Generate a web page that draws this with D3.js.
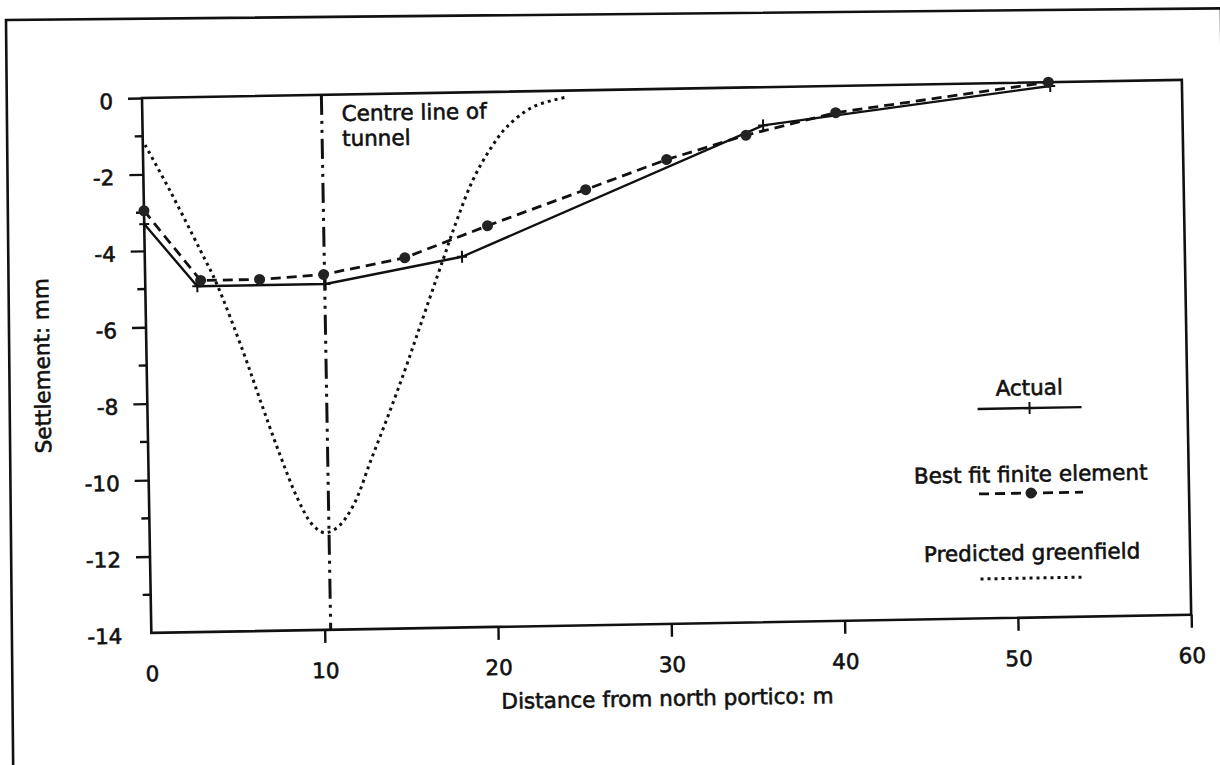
<!DOCTYPE html>
<html>
<head>
<meta charset="utf-8">
<script src="https://cdn.jsdelivr.net/npm/d3@7"></script>
<style>
  body { margin: 0; background: #fff; }
  svg text { font-family: "DejaVu Sans", "Liberation Sans", sans-serif; fill: #111; }
</style>
</head>
<body>
<svg id="chart" width="1220" height="765"></svg>
<script>
// ---------------- data ----------------
const xTickValues = [0, 10, 20, 30, 40, 50, 60];
const xTickLabels = ["0", "10", "20", "30", "40", "50", "60"];
const yTickValues = [0, -2, -4, -6, -8, -10, -12, -14];
const yTickLabels = ["0", "-2", "-4", "-6", "-8", "-10", "-12", "-14"];
const yMinorTicks = [-1, -3, -5, -7, -9, -11, -13];

const actualX = [0, 3.0, 10.4, 18.3, 35.8, 52.4];
const actualY = [-3.3, -4.95, -4.95, -4.3, -1.0, -0.1];

const bestFitX = [0, 3.2, 6.6, 10.3, 15.0, 19.8, 25.5, 30.2, 34.8, 40.0, 52.3];
const bestFitY = [-2.95, -4.8, -4.8, -4.7, -4.3, -3.5, -2.6, -1.85, -1.25, -0.7, 0.0];

const greenfieldX = [0.13, 1.5, 3.2, 4.1, 5.6, 6.6, 7.6, 8.6, 9.4, 10.1, 10.9, 11.8, 12.85, 13.9, 14.9, 15.8, 17.2, 18.05, 19.0, 20.0, 21.0, 22.55, 24.5];
const greenfieldY = [-1.23, -2.42, -4.0, -4.87, -6.71, -8.08, -9.4, -10.58, -11.24, -11.46, -11.3, -10.74, -9.57, -8.4, -7.23, -6.11, -4.37, -3.33, -2.3, -1.52, -0.93, -0.41, -0.17];

const tunnelCentreX = 10.35;

const xTitle = "Distance from north portico: m";
const yTitle = "Settlement: mm";
const annotationLines = ["Centre line of", "tunnel"];
const legendLabels = ["Actual", "Best fit finite element", "Predicted greenfield"];

// ---------------- drawing ----------------
const INK = "#111";
const FONT = 21.5;
const TEXT_STROKE = 0.6;
const svg = d3.select("#chart");
svg.append("rect").attr("width", 1220).attr("height", 765).attr("fill", "#fff");

// outer frame (scanned page, slightly tilted)
svg.append("rect")
  .attr("transform", "translate(6,20) rotate(-0.55)")
  .attr("width", 1215).attr("height", 760)
  .attr("fill", "none").attr("stroke", INK).attr("stroke-width", 2.6);

const W = 1040, H = 535;
const x = d3.scaleLinear().domain([0, 60]).range([0, W]);
const y = d3.scaleLinear().domain([-14, 0]).range([H, 0]);

const g = svg.append("g").attr("transform", "translate(142,98) rotate(-1)");

// plot box
g.append("rect").attr("width", W).attr("height", H)
  .attr("fill", "none").attr("stroke", INK).attr("stroke-width", 2.6);

function styleText(sel) {
  return sel.attr("font-size", FONT).attr("stroke", INK).attr("stroke-width", TEXT_STROKE);
}

// y axis
const yAxisG = g.append("g")
  .call(d3.axisLeft(y).tickValues(yTickValues).tickSize(14).tickPadding(15)
    .tickFormat((d, i) => yTickLabels[i]));
yAxisG.select(".domain").remove();
yAxisG.selectAll(".tick line").attr("stroke", INK).attr("stroke-width", 2.4);
yAxisG.selectAll(".tick").filter(d => d === -14).select("line").remove();
styleText(yAxisG.selectAll(".tick text")).attr("dy", "0.46em");
yAxisG.attr("font-family", null).attr("font-size", null);

g.append("g").selectAll("line").data(yMinorTicks).join("line")
  .attr("x1", -8).attr("x2", 0).attr("y1", d => y(d)).attr("y2", d => y(d))
  .attr("stroke", INK).attr("stroke-width", 2.4);

// x axis
const xAxisG = g.append("g").attr("transform", `translate(0,${H})`)
  .call(d3.axisBottom(x).tickValues(xTickValues).tickSize(13).tickPadding(20)
    .tickFormat((d, i) => xTickLabels[i]));
xAxisG.select(".domain").remove();
xAxisG.selectAll(".tick line").attr("stroke", INK).attr("stroke-width", 2.4);
xAxisG.selectAll(".tick").filter(d => d === 0).select("line").remove();
styleText(xAxisG.selectAll(".tick text"));
xAxisG.attr("font-family", null).attr("font-size", null);

// axis titles
styleText(g.append("text")).attr("x", W / 2 - 5).attr("y", 617).attr("text-anchor", "middle").text(xTitle);
styleText(g.append("text")).attr("transform", "translate(-97,266) rotate(-90)")
  .attr("text-anchor", "middle").text(yTitle);

// tunnel centre line
g.append("line")
  .attr("x1", x(tunnelCentreX)).attr("x2", x(tunnelCentreX))
  .attr("y1", y(0)).attr("y2", y(-14))
  .attr("stroke", INK).attr("stroke-width", 3)
  .attr("stroke-dasharray", "20,6,3,6,3,6");
annotationLines.forEach((t, i) => {
  styleText(g.append("text")).attr("x", x(11.5)).attr("y", 26.5 + i * 25).text(t);
});

// series
const lineGen = d3.line().x(d => x(d[0])).y(d => y(d[1]));
const actual = actualX.map((v, i) => [v, actualY[i]]);
const bestFit = bestFitX.map((v, i) => [v, bestFitY[i]]);
const greenfield = greenfieldX.map((v, i) => [v, greenfieldY[i]]);

g.append("path").datum(greenfield)
  .attr("d", d3.line().x(d => x(d[0])).y(d => y(d[1])).curve(d3.curveCatmullRom.alpha(0.5)))
  .attr("fill", "none").attr("stroke", INK).attr("stroke-width", 3)
  .attr("stroke-dasharray", "3,4");

g.append("path").datum(bestFit).attr("d", lineGen)
  .attr("fill", "none").attr("stroke", INK).attr("stroke-width", 2.8)
  .attr("stroke-dasharray", "10,6");

g.append("path").datum(actual).attr("d", lineGen)
  .attr("fill", "none").attr("stroke", INK).attr("stroke-width", 2.4);

const cross = "M-5,0H5M0,-6V6";
g.append("g").selectAll("path").data(actual).join("path")
  .attr("transform", d => `translate(${x(d[0])},${y(d[1])})`)
  .attr("d", cross).attr("stroke", INK).attr("stroke-width", 2);

g.append("g").selectAll("circle").data(bestFit).join("circle")
  .attr("cx", d => x(d[0])).attr("cy", d => y(d[1])).attr("r", 5.5)
  .attr("fill", "#222");

// legend
const legendCX = 882;
const legend = [
  { label: legendLabels[0], textY: 312.5, lineY: 325.5, dash: null, width: 2.4, marker: "cross" },
  { label: legendLabels[1], textY: 399, lineY: 410.5, dash: "10,6", width: 2.8, marker: "dot" },
  { label: legendLabels[2], textY: 477.5, lineY: 495.5, dash: "3,4", width: 3, marker: null }
];
legend.forEach(item => {
  styleText(g.append("text")).attr("x", legendCX).attr("y", item.textY)
    .attr("text-anchor", "middle").text(item.label);
  g.append("line").attr("x1", legendCX - 52).attr("x2", legendCX + 52)
    .attr("y1", item.lineY).attr("y2", item.lineY)
    .attr("stroke", INK).attr("stroke-width", item.width)
    .attr("stroke-dasharray", item.dash);
  if (item.marker === "cross") {
    g.append("path").attr("transform", `translate(${legendCX},${item.lineY})`)
      .attr("d", cross).attr("stroke", INK).attr("stroke-width", 2);
  } else if (item.marker === "dot") {
    g.append("circle").attr("cx", legendCX).attr("cy", item.lineY).attr("r", 5.5).attr("fill", "#222");
  }
});
</script>
</body>
</html>
